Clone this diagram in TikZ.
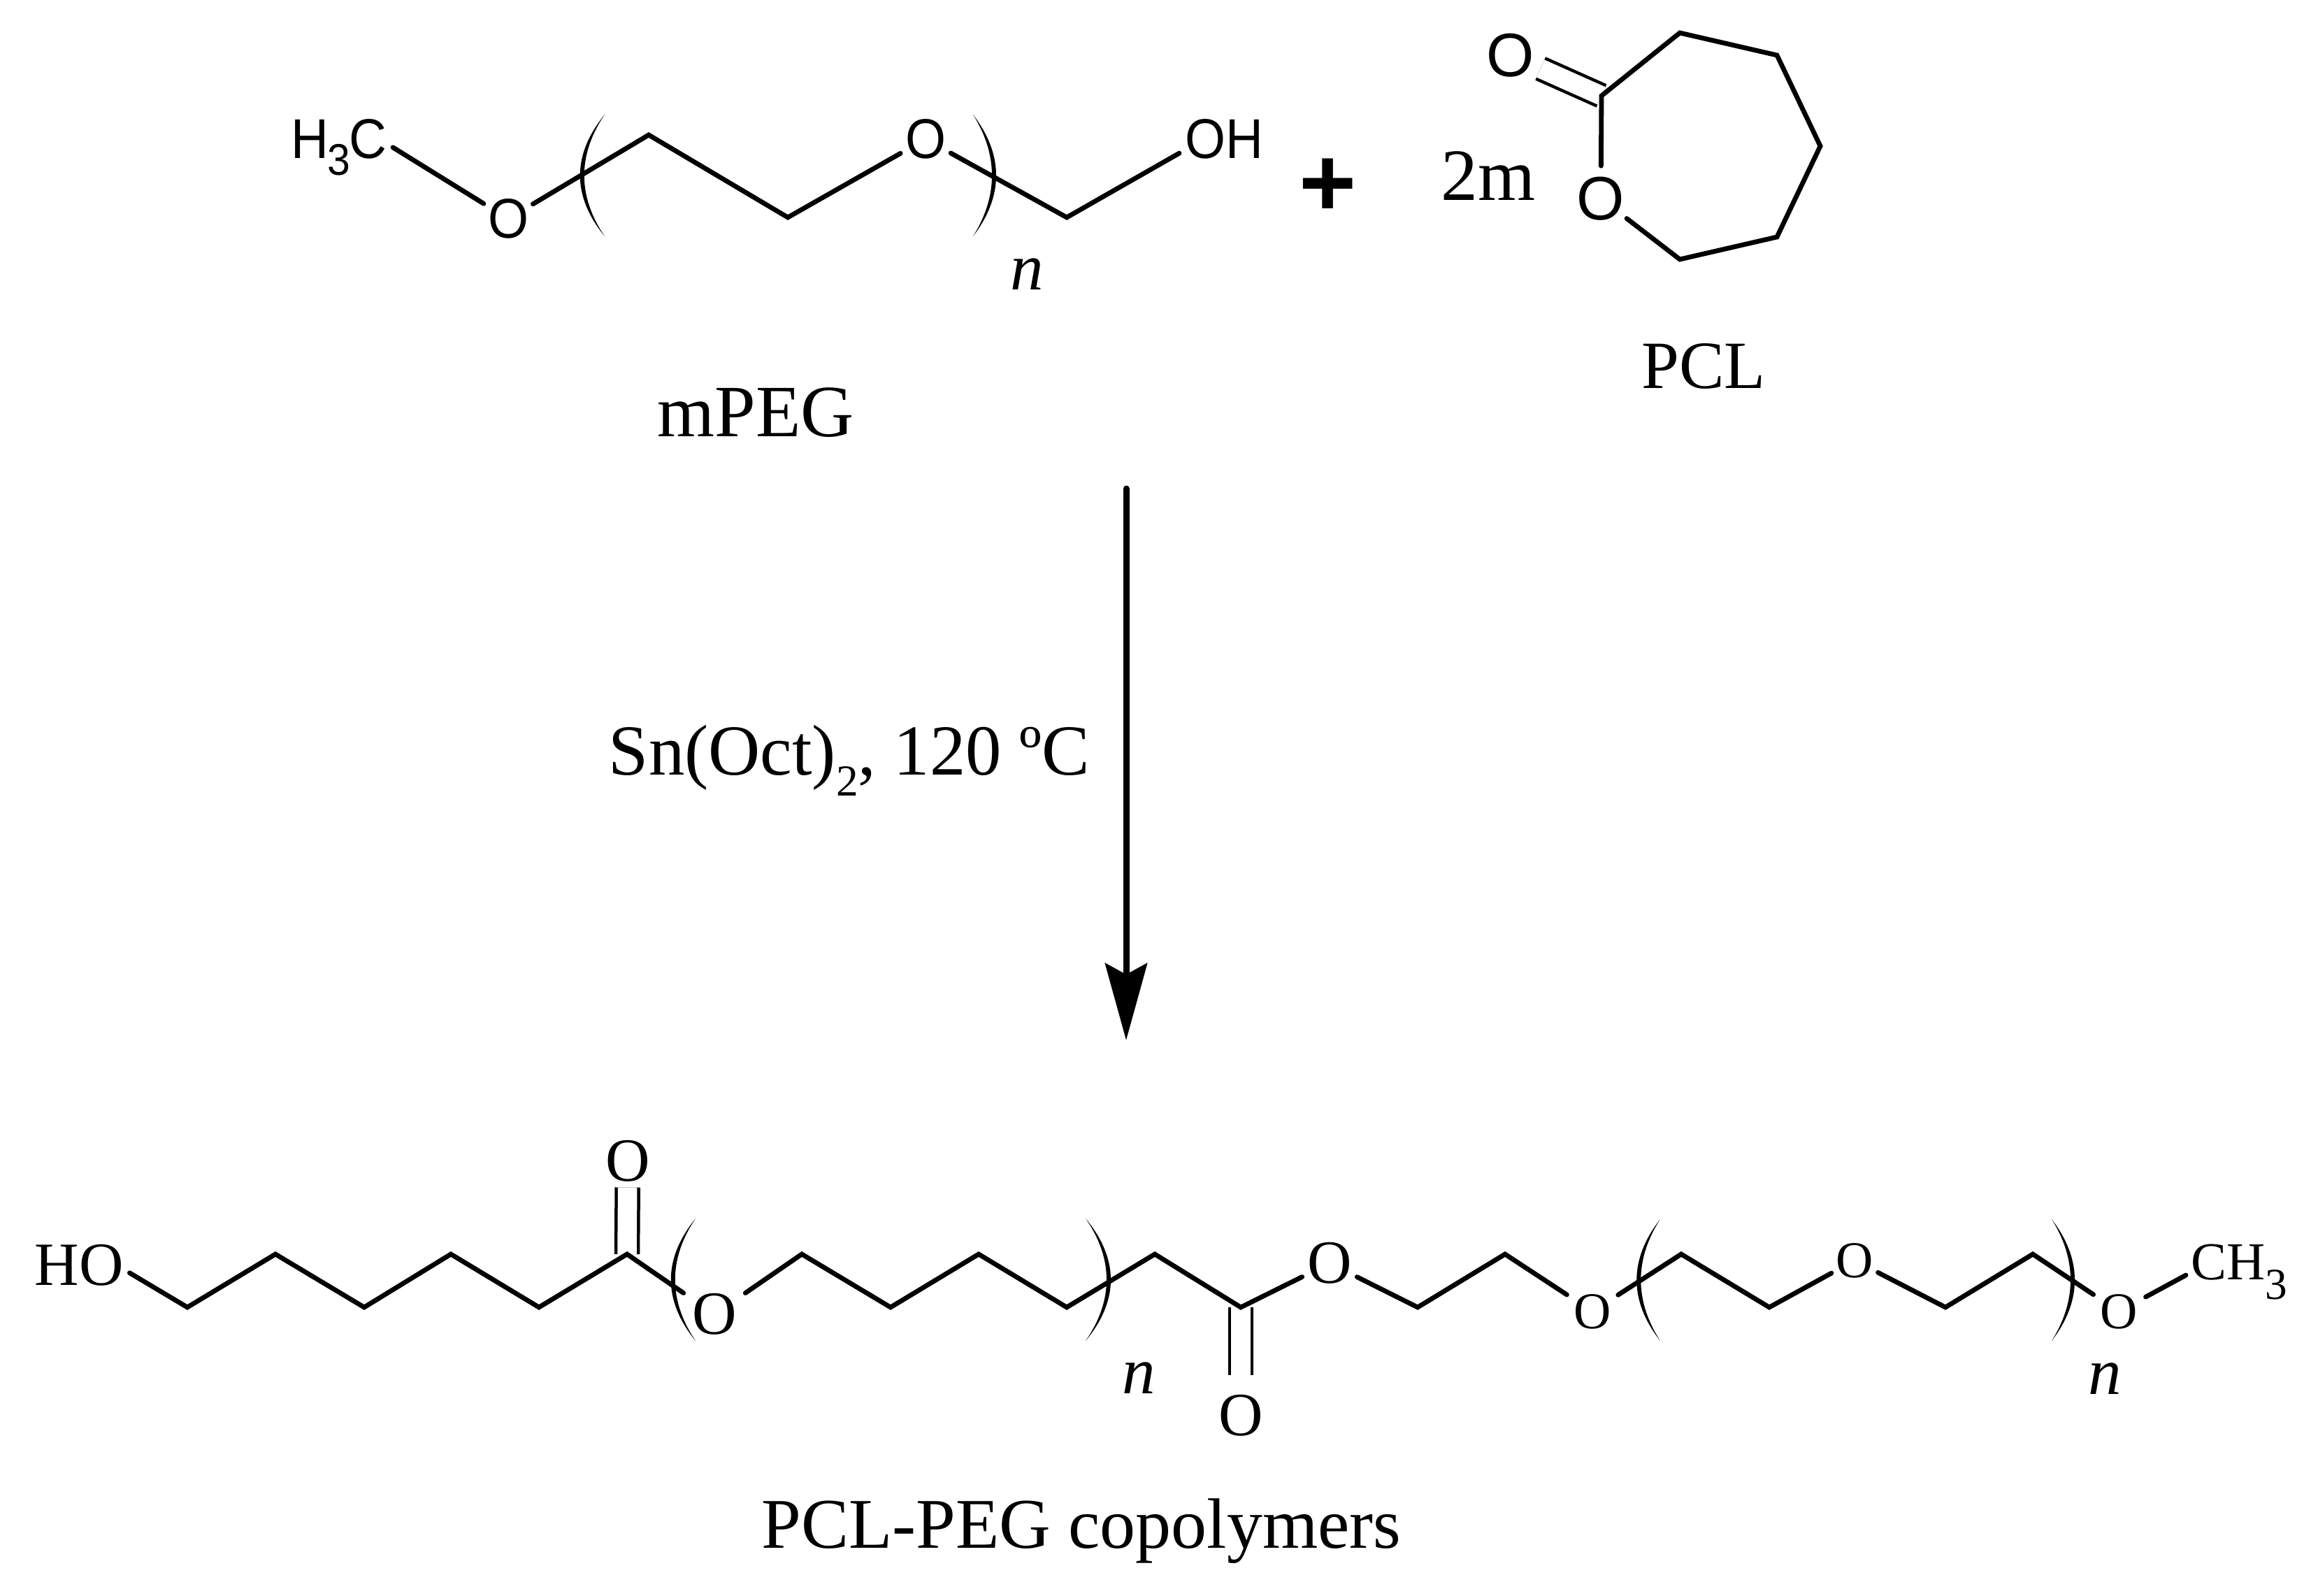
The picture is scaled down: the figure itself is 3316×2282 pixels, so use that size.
\documentclass[tikz,border=0pt]{standalone}
\usepackage{fontspec}
\setmainfont{Liberation Serif}
\setsansfont{Liberation Sans}
\newfontfamily\chemsans[FakeStretch=0.93]{Liberation Sans}
\usetikzlibrary{arrows.meta}
\newcommand\fsize[1]{\fontsize{#1}{#1}\selectfont}
\newcommand\lowthree[2]{\raisebox{-#1}{\fsize{18}#2}}
\newcommand\polyparen[5]{
  \fill (#1,#2) .. controls (#4,#2*0.67+#3*0.33) and (#4,#2*0.33+#3*0.67) .. (#1,#3)
    .. controls (#5,#2*0.33+#3*0.67) and (#5,#2*0.67+#3*0.33) .. (#1,#2) -- cycle;
}
\tikzset{
  bond/.style={line width=0.68mm, line cap=round},
  dblbond/.style={line width=0.45mm, double, double distance=2.75mm},
  sanslabel/.style={inner sep=0.8mm, font=\chemsans\fsize{22.8}},
  sansO/.style={circle, inner sep=0pt, font=\chemsans\fsize{22.8}},
  ringO/.style={circle, inner sep=0pt, font=\sffamily\fsize{25}},
  serifO/.style={circle, inner sep=0pt, font=\fsize{25}},
  smallO/.style={circle, inner sep=0pt, minimum size=8.6mm, font=\fsize{21}},
  serifatoms/.style={inner sep=0.8mm, font=\fsize{25}},
  caption/.style={anchor=base, inner sep=0pt, font=\fsize{#1}},
  repeatn/.style={anchor=base, inner sep=0pt, font=\itshape\fsize{27}}
}
\begin{document}
\begin{tikzpicture}[x=0.01cm, y=-0.01cm]
\useasboundingbox (0,0) rectangle (3316,2282);

% mPEG
\node[sanslabel, anchor=base east] (h3c) at (562,227) {H\kern-0.2mm\lowthree{2.3mm}{3}\kern-0.2mm C};
\node[sansO] (po1) at (727,313) {O};
\coordinate (pc1) at (928,193);
\coordinate (pc2) at (1127,311);
\node[sansO] (po2) at (1324,199) {O};
\coordinate (pc3) at (1526,311);
\node[sanslabel, anchor=base west] (poh) at (1687,227) {OH};
\draw[bond] (h3c.east) -- (po1);
\draw[bond, line join=miter] (po1) -- (pc1) -- (pc2) -- (po2);
\draw[bond, line join=miter] (po2) -- (pc3) -- (poh.197);
\polyparen{865}{164}{338}{818}{826}
\polyparen{1392}{164}{338}{1436}{1428}
\node[repeatn] (pn) at (1469,415) {n};
\node[caption=30] (mpeg) at (1081,624) {mPEG};

\node[anchor=center, inner sep=0pt, font=\sffamily\bfseries\fsize{40}] (plus) at (1900,268) {+};
\node[caption=30] (twom) at (2129,287) {2m};

% lactone ring
\node[ringO] (ro1) at (2161,79) {O};
\coordinate (r1) at (2291,137);
\node[ringO] (ro2) at (2290,284) {O};
\coordinate (r2) at (2403,47);
\coordinate (r3) at (2542,79);
\coordinate (r4) at (2604,209);
\coordinate (r5) at (2542,339);
\coordinate (r6) at (2403,371);
\draw[dblbond] (ro1) -- (r1);
\draw[bond, line join=miter] (ro2) -- (r1) -- (r2) -- (r3) -- (r4) -- (r5) -- (r6) -- (ro2);
\node[caption=27.5] (pcl) at (2437,555) {PCL};

% reaction arrow
\coordinate (arrowtop) at (1611,699);
\coordinate (arrowtip) at (1611,1488);
\draw[line width=0.9mm, line cap=round, -{Stealth[length=11mm, width=6mm, inset=1.6mm]}] (arrowtop) -- (arrowtip);
\node[caption=29.2] (cond) at (1215,1108) {Sn(Oct)\lowthree{3mm}{2}, 120 ºC};

% copolymer
\node[serifatoms, anchor=base west] (bho) at (41,1838) {HO};
\coordinate (b1) at (268,1870);
\coordinate (b2) at (394,1794);
\coordinate (b3) at (521,1870);
\coordinate (b4) at (645,1794);
\coordinate (b5) at (771,1870);
\coordinate (b6) at (897,1794);
\node[serifO, inner sep=-0.45mm] (bo1) at (898,1661) {O};
\node[serifO, minimum size=10.6mm] (bo2) at (1022,1880) {O};
\coordinate (b7) at (1147,1794);
\coordinate (b8) at (1274,1870);
\coordinate (b9) at (1400,1794);
\coordinate (b10) at (1526,1870);
\coordinate (b11) at (1652,1794);
\coordinate (b12) at (1775,1870);
\node[serifO, minimum size=11.4mm] (bo3) at (1775,2025) {O};
\node[serifO] (bo4) at (1902,1807) {O};
\coordinate (b13) at (2028,1870);
\coordinate (b14) at (2153,1794);
\node[smallO] (bo5) at (2278,1876) {O};
\coordinate (b15) at (2405,1794);
\coordinate (b16) at (2531,1870);
\node[smallO, minimum size=7.4mm] (bo6) at (2653,1803) {O};
\coordinate (b17) at (2783,1870);
\coordinate (b18) at (2908,1794);
\node[smallO] (bo7) at (3031,1876) {O};
\node[serifatoms, inner sep=0.7mm, font=\fsize{21.7}, anchor=base west] (bch3) at (3127,1830) {CH\lowthree{2.8mm}{3}};
\draw[dblbond] (bo1) -- (b6);
\draw[dblbond] (bo3) -- (b12);
\draw[bond, line join=miter] (bho.-9) -- (b1) -- (b2) -- (b3) -- (b4) -- (b5) -- (b6) -- (bo2);
\draw[bond, line join=miter] (bo2) -- (b7) -- (b8) -- (b9) -- (b10) -- (b11) -- (b12) -- (bo4);
\draw[bond, line join=miter] (bo4) -- (b13) -- (b14) -- (bo5);
\draw[bond, line join=miter] (bo5) -- (b15) -- (b16) -- (bo6);
\draw[bond, line join=miter] (bo6) -- (b17) -- (b18) -- (bo7);
\draw[bond] (bo7) -- ([yshift=-0.5mm]bch3.west);
\polyparen{995}{1743}{1918}{948}{956}
\polyparen{1553}{1743}{1918}{1601}{1593}
\polyparen{2375}{1744}{1918}{2330}{2338}
\polyparen{2935}{1744}{1918}{2979}{2971}
\node[repeatn] (bn1) at (1629,1993) {n};
\node[repeatn] (bn2) at (3011,1994) {n};
\node[caption=29] (copoly) at (1547,2214) {PCL-PEG copolymers};
\end{tikzpicture}
\end{document}
